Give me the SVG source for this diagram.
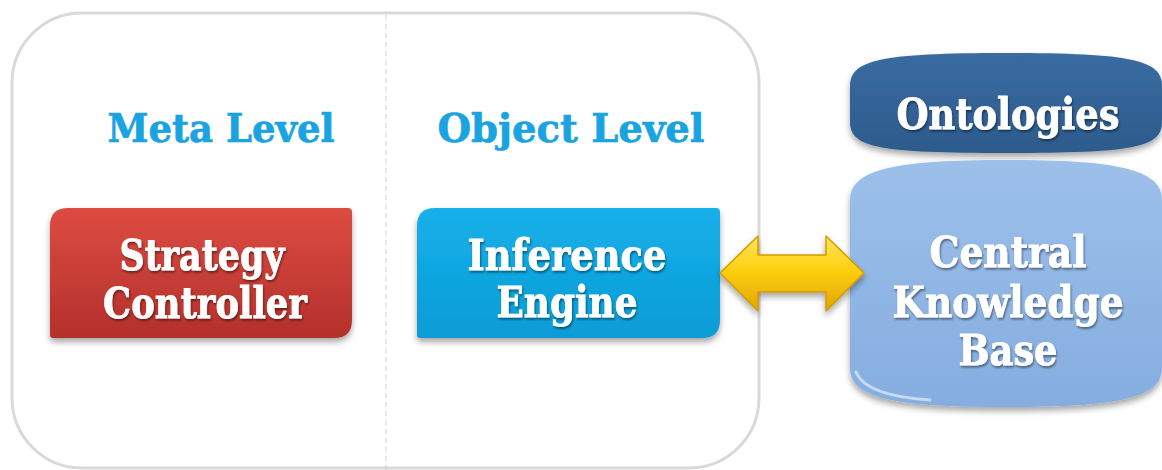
<svg xmlns="http://www.w3.org/2000/svg" width="1162" height="470" viewBox="0 0 1162 470">
  <defs>
    <linearGradient id="gRed" x1="0" y1="0" x2="0" y2="1">
      <stop offset="0" stop-color="#dc4c42"/>
      <stop offset="1" stop-color="#b4302b"/>
    </linearGradient>
    <linearGradient id="gBlue" x1="0" y1="0" x2="0" y2="1">
      <stop offset="0" stop-color="#16b0ea"/>
      <stop offset="1" stop-color="#0a9cd6"/>
    </linearGradient>
    <linearGradient id="gGold" x1="0" y1="0" x2="0" y2="1">
      <stop offset="0" stop-color="#ffe55a"/>
      <stop offset="0.45" stop-color="#fcd010"/>
      <stop offset="1" stop-color="#e2a400"/>
    </linearGradient>
    <linearGradient id="gOnt" x1="0" y1="0" x2="0" y2="1">
      <stop offset="0" stop-color="#3a6ca2"/>
      <stop offset="1" stop-color="#2c5a8c"/>
    </linearGradient>
    <linearGradient id="gKb" x1="0" y1="0" x2="0" y2="1">
      <stop offset="0" stop-color="#9cc0ea"/>
      <stop offset="1" stop-color="#86ade0"/>
    </linearGradient>
    <filter id="shadow" x="-10%" y="-10%" width="120%" height="130%">
      <feGaussianBlur in="SourceAlpha" stdDeviation="3"/>
      <feOffset dx="0" dy="4" result="b"/>
      <feComponentTransfer><feFuncA type="linear" slope="0.35"/></feComponentTransfer>
      <feMerge><feMergeNode/><feMergeNode in="SourceGraphic"/></feMerge>
    </filter>
    <filter id="tshadow" x="-5%" y="-5%" width="110%" height="120%">
      <feGaussianBlur in="SourceAlpha" stdDeviation="1"/>
      <feOffset dx="1" dy="1.5"/>
      <feComponentTransfer><feFuncA type="linear" slope="0.45"/></feComponentTransfer>
      <feMerge><feMergeNode/><feMergeNode in="SourceGraphic"/></feMerge>
    </filter>
  </defs>
  <style>
    .title { font-family: "DejaVu Serif", serif; font-weight: bold; font-size: 40px; fill: #1aa3e1; stroke: #1aa3e1; stroke-width: 0.7px; text-anchor: middle; }
    .lbl { font-family: "DejaVu Serif", serif; font-weight: bold; font-size: 43px; fill: #ffffff; stroke: #ffffff; stroke-width: 0.8px; text-anchor: middle; }
  </style>
  <rect width="1162" height="470" fill="#ffffff"/>

  <g id="frame">
    <rect x="12" y="13" width="747" height="455" rx="70" ry="70" fill="#ffffff" stroke="#d9d9d9" stroke-width="3"/>
    <line x1="386" y1="15" x2="386" y2="470" stroke="#d0d0d0" stroke-width="1" stroke-dasharray="5 4"/>
  </g>

  <g id="meta-level">
    <text class="title" x="221" y="142" textLength="227" lengthAdjust="spacingAndGlyphs">Meta Level</text>
  </g>
  <g id="object-level">
    <text class="title" x="571" y="142" textLength="267" lengthAdjust="spacingAndGlyphs">Object Level</text>
  </g>

  <g id="strategy-controller">
    <path d="M68,208 L348,208 Q352,208 352,212 L352,320 Q352,338 334,338 L53,338 Q50,338 50,335 L50,226 Q50,208 68,208 Z" fill="url(#gRed)" filter="url(#shadow)"/>
    <g filter="url(#tshadow)">
      <text class="lbl" x="202" y="270" textLength="165" lengthAdjust="spacingAndGlyphs">Strategy</text>
      <text class="lbl" x="205" y="318" textLength="204" lengthAdjust="spacingAndGlyphs">Controller</text>
    </g>
  </g>

  <g id="inference-engine">
    <path d="M435,208 L716,208 Q720,208 720,212 L720,320 Q720,338 702,338 L420,338 Q417,338 417,335 L417,226 Q417,208 435,208 Z" fill="url(#gBlue)" filter="url(#shadow)"/>
    <g filter="url(#tshadow)">
      <text class="lbl" x="567" y="270" textLength="199" lengthAdjust="spacingAndGlyphs">Inference</text>
      <text class="lbl" x="567" y="317" textLength="141" lengthAdjust="spacingAndGlyphs">Engine</text>
    </g>
  </g>

  <g id="ontologies">
    <path d="M850,86 C850,60 880,53 1006,53 C1132,53 1162,60 1162,86 L1162,122 C1162,148 1132,153 1006,153 C880,153 850,148 850,122 Z" fill="url(#gOnt)" filter="url(#shadow)"/>
    <text class="lbl" x="1008" y="129" textLength="223" lengthAdjust="spacingAndGlyphs" filter="url(#tshadow)">Ontologies</text>
  </g>

  <g id="central-knowledge-base">
    <path d="M850,200 C850,168 900,160 1006,160 C1112,160 1162,168 1162,200 L1162,368 C1162,400 1112,407 1006,407 C900,407 850,400 850,368 Z" fill="url(#gKb)" filter="url(#shadow)"/>
    <path d="M856,372 C864,392 900,398 930,400" fill="none" stroke="#d6e6f8" stroke-width="3" stroke-linecap="round" opacity="0.8"/>
    <g filter="url(#tshadow)">
      <text class="lbl" x="1008" y="267" textLength="157" lengthAdjust="spacingAndGlyphs">Central</text>
      <text class="lbl" x="1008" y="317" textLength="231" lengthAdjust="spacingAndGlyphs">Knowledge</text>
      <text class="lbl" x="1008" y="365" textLength="99" lengthAdjust="spacingAndGlyphs">Base</text>
    </g>
  </g>

  <g id="connectors">
    <path d="M720,273 L758,236 L758,255 L826,255 L826,236 L864,273 L826,311 L826,292 L758,292 L758,311 Z" fill="url(#gGold)" stroke="#d49a00" stroke-width="1.5" stroke-linejoin="round" filter="url(#shadow)"/>
  </g>
</svg>
